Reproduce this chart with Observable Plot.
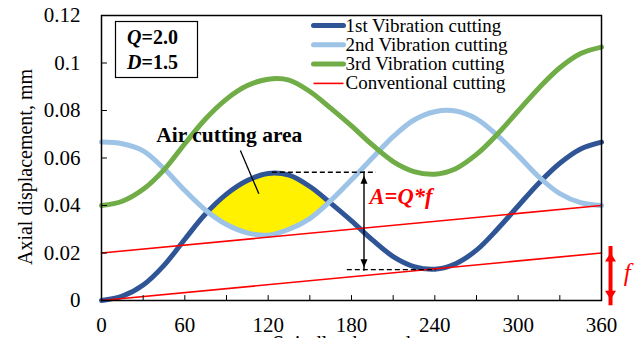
<!DOCTYPE html>
<html><head><meta charset="utf-8">
<script src="https://cdn.jsdelivr.net/npm/d3@7"></script>
<script src="https://cdn.jsdelivr.net/npm/@observablehq/plot@0.6"></script>
<style>
html,body{margin:0;padding:0;background:#fff;}
#chart{width:640px;height:338px;overflow:hidden;}
</style></head><body><div id="chart"></div>
<script>
// ---- data ----
const phaseDeg   = [0,15,30,45,60,75,90,105,120,135,150,165,180,195,210,225,240,255,270,285,300,315,330,345,360];
const vibration1 = [0.0000,0.0018,0.0065,0.0148,0.0258,0.0365,0.0448,0.0505,0.0535,0.0528,0.0480,0.0410,0.0335,0.0255,0.0185,0.0143,0.0132,0.0155,0.0212,0.0300,0.0398,0.0495,0.0578,0.0638,0.0667];
const vibration2 = [0.0667,0.0660,0.0630,0.0555,0.0463,0.0380,0.0320,0.0285,0.0275,0.0300,0.0345,0.0420,0.0508,0.0600,0.0690,0.0760,0.0795,0.0798,0.0765,0.0695,0.0610,0.0520,0.0450,0.0412,0.0400];
const vibration3 = [0.0400,0.0418,0.0468,0.0550,0.0660,0.0765,0.0848,0.0905,0.0932,0.0928,0.0880,0.0810,0.0735,0.0655,0.0585,0.0543,0.0532,0.0555,0.0615,0.0700,0.0798,0.0895,0.0980,0.1040,0.1067];
const convPhase = [0, 360];
const conventionalLow  = [0.00, 0.02];
const conventionalHigh = [0.02, 0.04];
const xTickLabels = [0,60,120,180,240,300,360];
const xMinorTicks = [30,60,90,120,150,180,210,240,270,300,330];
const yTicks = [0,0.02,0.04,0.06,0.08,0.10,0.12];
const yTickLabels = ["0","0.02","0.04","0.06","0.08","0.1","0.12"];
const seriesNames = ["1st Vibration cutting","2nd Vibration cutting","3rd Vibration cutting","Conventional cutting"];
const paramNames = ["Q","D"];
const paramValues = ["2.0","1.5"];
const airRange = [60, 180];

// ---- styling ----
const serif = "'Liberation Serif','Times New Roman',Times,serif";
const seriesColors = ["#2F5597","#9DC3E6","#70AD47","#FF0000"];
const seriesWidths = [5,5,5,1.6];
const yellow = "#FFF100";

const rows = phaseDeg.map((p,i)=>({phase:p, v1:vibration1[i], v2:vibration2[i], v3:vibration3[i]}));
const convRows = convPhase.map((p,i)=>({phase:p, low:conventionalLow[i], high:conventionalHigh[i]}));
const airRows = rows.filter(r => r.phase >= airRange[0] && r.phase <= airRange[1]);

const lineShape = {draw(ctx, l){ ctx.moveTo(0,0); ctx.lineTo(0,-l); }};
const headShape = (w,h) => ({draw(ctx, l){ ctx.moveTo(0,-l); ctx.lineTo(-w/2,-l+h); ctx.lineTo(w/2,-l+h); ctx.closePath(); }});

const curve = "catmull-rom";

const airMark = Plot.differenceY
  ? Plot.differenceY(airRows, {x:"phase", y1:"v2", y2:"v1", positiveFill:yellow, negativeFill:"none", fillOpacity:1, stroke:"none", curve})
  : Plot.areaY(airRows, {x:"phase", y1:"v2", y2:d=>Math.max(d.v1,d.v2), fill:yellow, curve});

const A_top = 0.054, A_bottom = 0.013, A_x = 189;
const f_x = 366.5;

const legendMarks = seriesNames.flatMap((name,i)=>[
  Plot.vector([name], {frameAnchor:"top-left", dx:212, dy:10+i*19.3, rotate:90, length:30, anchor:"start",
    shape:lineShape, stroke:seriesColors[i], strokeWidth:seriesWidths[i], strokeLinecap: i<3 ? "round" : "butt"}),
  Plot.text([name], {frameAnchor:"top-left", dx:244, dy:10+i*19.3, text:d=>d, textAnchor:"start", lineAnchor:"middle", fontSize:19, fill:"black"})
]);

const paramMarks = paramNames.flatMap((n,i)=>[
  Plot.text([n], {frameAnchor:"top-left", dx:40, dy:22+25*i, text:d=>d, textAnchor:"end", lineAnchor:"middle", fontSize:20, fontWeight:"bold", fontStyle:"italic"}),
  Plot.text(["="+paramValues[i]], {frameAnchor:"top-left", dx:40, dy:22+25*i, text:d=>d, textAnchor:"start", lineAnchor:"middle", fontSize:20, fontWeight:"bold"})
]);

const chart = Plot.plot({
  width:640, height:338,
  marginTop:15, marginRight:39, marginBottom:38, marginLeft:101,
  x:{domain:[0,360]},
  y:{domain:[0,0.12]},
  style:{fontFamily:serif, background:"white", color:"black"},
  marks:[
    airMark,
    Plot.line(rows, {x:"phase", y:"v1", stroke:seriesColors[0], strokeWidth:seriesWidths[0], curve}),
    Plot.line(rows, {x:"phase", y:"v2", stroke:seriesColors[1], strokeWidth:seriesWidths[1], curve}),
    Plot.line(rows, {x:"phase", y:"v3", stroke:seriesColors[2], strokeWidth:seriesWidths[2], curve}),
    Plot.line(convRows, {x:"phase", y:"low", stroke:seriesColors[3], strokeWidth:seriesWidths[3]}),
    Plot.line(convRows, {x:"phase", y:"high", stroke:seriesColors[3], strokeWidth:seriesWidths[3]}),
    // amplitude annotation
    Plot.ruleY([A_top], {y:d=>d, x1:()=>123, x2:()=>198, stroke:"black", strokeWidth:1.3, strokeDasharray:"5,3"}),
    Plot.ruleY([A_bottom], {y:d=>d, x1:()=>177, x2:()=>241, stroke:"black", strokeWidth:1.3, strokeDasharray:"5,3"}),
    Plot.ruleX([A_x], {x:d=>d, y1:()=>A_bottom+0.0010, y2:()=>A_top-0.0015, insetTop:4, insetBottom:4, stroke:"black", strokeWidth:1.4}),
    Plot.vector([A_x], {x:d=>d, y:()=>A_top-0.0015, rotate:0, length:10, anchor:"end", shape:headShape(7,8), fill:"black", stroke:"none"}),
    Plot.vector([A_x], {x:d=>d, y:()=>A_bottom+0.0010, rotate:180, length:10, anchor:"end", shape:headShape(7,8), fill:"black", stroke:"none"}),
    Plot.text(["A=Q*f"], {x:()=>193, y:()=>0.0435, text:d=>d, textAnchor:"start", lineAnchor:"middle", fontSize:22.5, fontWeight:"bold", fontStyle:"italic", fill:"#FF0000"}),
    // air cutting label
    Plot.link([0], {x1:()=>100, y1:()=>0.0632, x2:()=>113.3, y2:()=>0.0449, stroke:"black", strokeWidth:1.3}),
    Plot.text(["Air cutting area"], {x:()=>92, y:()=>0.0695, text:d=>d, textAnchor:"middle", lineAnchor:"middle", fontSize:21.5, fontWeight:"bold"}),
    // feed arrow
    Plot.ruleX([f_x], {x:d=>d, y1:()=>conventionalLow[0]+0.0003, y2:()=>conventionalLow[1]+0.0002, insetTop:6, insetBottom:6, stroke:"#FF0000", strokeWidth:4}),
    Plot.vector([f_x], {x:d=>d, y:()=>conventionalLow[1]+0.0002, rotate:0, length:10, anchor:"end", shape:headShape(11,9), fill:"#FF0000", stroke:"none"}),
    Plot.vector([f_x], {x:d=>d, y:()=>conventionalLow[0]+0.0003, rotate:180, length:10, anchor:"end", shape:headShape(11,9), fill:"#FF0000", stroke:"none"}),
    Plot.text(["f"], {x:()=>378.5, y:()=>0.0114, text:d=>d, textAnchor:"middle", lineAnchor:"middle", fontSize:25, fontStyle:"italic", fill:"#FF0000"}),
    // parameter box
    Plot.frame({insetLeft:14, insetTop:6, insetRight:404, insetBottom:223, stroke:"black", strokeWidth:1.2}),
    ...paramMarks,
    // legend
    ...legendMarks,
    // ticks (inward)
    Plot.vector(xMinorTicks, {x:d=>d, frameAnchor:"bottom", rotate:0, length:5, anchor:"start", shape:lineShape, stroke:"black", strokeWidth:1}),
    Plot.vector(yTicks, {y:d=>d, frameAnchor:"left", rotate:90, length:5, anchor:"start", shape:lineShape, stroke:"black", strokeWidth:1}),
    // axes
    Plot.axisX(xTickLabels, {tickSize:0, tickPadding:17, fontSize:21, label:null}),
    Plot.axisY(yTicks, {tickSize:0, tickPadding:21, fontSize:21, label:null, tickFormat:d=>yTickLabels[yTicks.indexOf(d)]}),
    Plot.text(["Axial displacement, mm"], {frameAnchor:"left", rotate:-90, dx:-76, dy:9, text:d=>d, lineAnchor:"middle", textAnchor:"middle", fontSize:20}),
    Plot.text(["Spindle phase, deg"], {frameAnchor:"bottom", dy:34.5, text:d=>d, lineAnchor:"top", textAnchor:"middle", fontSize:21}),
    Plot.frame({stroke:"black", strokeWidth:1.5})
  ]
});
document.getElementById("chart").appendChild(chart);
</script>
</body></html>
